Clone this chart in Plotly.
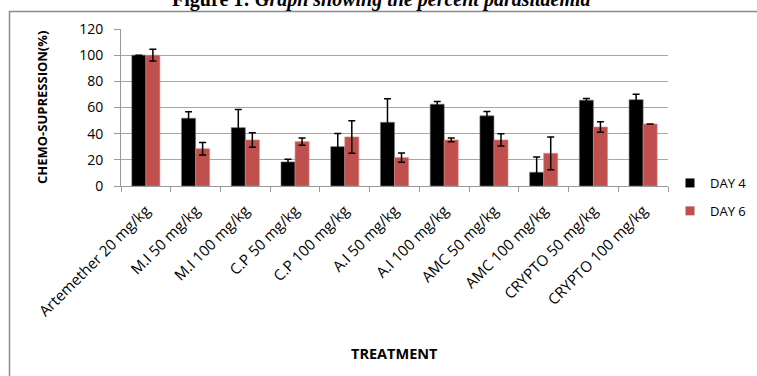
import plotly.graph_objects as go

categories = ["Artemether 20 mg/kg", "M.I 50 mg/kg", "M.I 100 mg/kg", "C.P 50 mg/kg",
              "C.P 100 mg/kg", "A.I 50 mg/kg", "A.I 100 mg/kg", "AMC 50 mg/kg",
              "AMC 100 mg/kg", "CRYPTO 50 mg/kg", "CRYPTO 100 mg/kg"]
day4 = [100, 51.8, 44.6, 18.4, 30.1, 48.7, 62.5, 53.6, 10.5, 65.6, 66.0]
day4_err = [0, 5.0, 13.8, 2.0, 10.0, 18.0, 2.0, 3.3, 11.7, 1.2, 4.2]
day6 = [100, 28.5, 35.2, 33.9, 37.5, 21.7, 35.2, 35.2, 25.0, 45.1, 47.4]
day6_err = [4.5, 4.8, 5.5, 2.8, 12.4, 3.6, 1.4, 4.7, 12.5, 4.0, 0]
y_ticks = [0, 20, 40, 60, 80, 100, 120]

W, H = 757, 376
L, R, T, B = 121, 668, 29, 186

def px_x(p):
    return (p - L) / (R - L)

def px_y(p):
    return (B - p) / (B - T)

font_sans = "Open Sans, Liberation Sans, sans-serif"
c4, c6 = "#000000", "#C0504D"

fig = go.Figure()
fig.add_trace(go.Bar(
    x=categories, y=day4, name="DAY 4", showlegend=False,
    marker=dict(color=c4, line=dict(color="#777777", width=0.6)),
    error_y=dict(type="data", array=day4_err, visible=True, color="#000000", thickness=1.5, width=3.5),
))
fig.add_trace(go.Bar(
    x=categories, y=day6, name="DAY 6", showlegend=False,
    marker=dict(color=c6, line=dict(color="#D88A88", width=0.6)),
    error_y=dict(type="data", array=day6_err, visible=True, color="#000000", thickness=1.5, width=3.5),
))
# legend entries (square swatches)
for name, col, grp in [("DAY 4", c4, "a"), ("DAY 6", c6, "b")]:
    fig.add_trace(go.Scatter(x=[None], y=[None], mode="markers", name=name, legendgroup=grp,
                             marker=dict(symbol="square", size=9, color=col)))

fig.update_layout(
    width=W, height=H,
    margin=dict(l=L, r=W - R, t=T, b=H - B, pad=0, autoexpand=False),
    paper_bgcolor="white", plot_bgcolor="white",
    barmode="group", bargap=0.435, bargroupgap=0,
    font=dict(family=font_sans, size=13, color="#000000"),
    showlegend=True,
    legend=dict(x=px_x(670), y=px_y(168), xanchor="left", yanchor="top",
                font=dict(size=13, family=font_sans), traceorder="grouped",
                tracegroupgap=8, itemwidth=30, bgcolor="rgba(0,0,0,0)"),
    xaxis=dict(type="category", showgrid=False, showline=True, linecolor="#9A9A9A", linewidth=1,
               ticks="outside", tickson="boundaries", ticklen=5, tickcolor="#9A9A9A",
               tickangle=-45, tickfont=dict(size=15, family=font_sans), automargin=False,
               ticklabelstandoff=9),
    yaxis=dict(range=[0, 120], tickvals=y_ticks, showgrid=True, gridcolor="#A6A6A6", gridwidth=1,
               showline=True, linecolor="#9A9A9A", linewidth=1, ticks="outside", ticklen=6,
               tickcolor="#9A9A9A", tickfont=dict(size=14, family=font_sans), zeroline=False,
               automargin=False, ticklabelstandoff=8),
)

fig.add_annotation(
    text="<b>CHEMO-SUPRESSION(%)</b>", textangle=-90, xref="paper", yref="paper",
    x=px_x(42), y=px_y(108), xanchor="center", yanchor="middle", showarrow=False,
    font=dict(size=13, family=font_sans))
fig.add_annotation(
    text="<b>TREATMENT</b>", xref="paper", yref="paper",
    x=px_x(394), y=px_y(353), xanchor="center", yanchor="middle", showarrow=False,
    font=dict(size=14.5, family=font_sans))
fig.add_annotation(
    text="<b>Figure 1: <i>Graph showing the percent parasitaemia</i></b>",
    xref="paper", yref="paper", x=px_x(381), y=px_y(13), xanchor="center", yanchor="bottom",
    showarrow=False, font=dict(size=20, family="Liberation Serif, Times New Roman, serif"))

fig.add_shape(type="rect", xref="paper", yref="paper",
              x0=px_x(9.5), x1=px_x(800), y0=px_y(11.5), y1=px_y(420),
              line=dict(color="#8A8A8A", width=1.5), fillcolor="rgba(0,0,0,0)", layer="below")

fig.write_html("out.html", config={"displayModeBar": False},
               post_script="document.body.style.margin='0';")
